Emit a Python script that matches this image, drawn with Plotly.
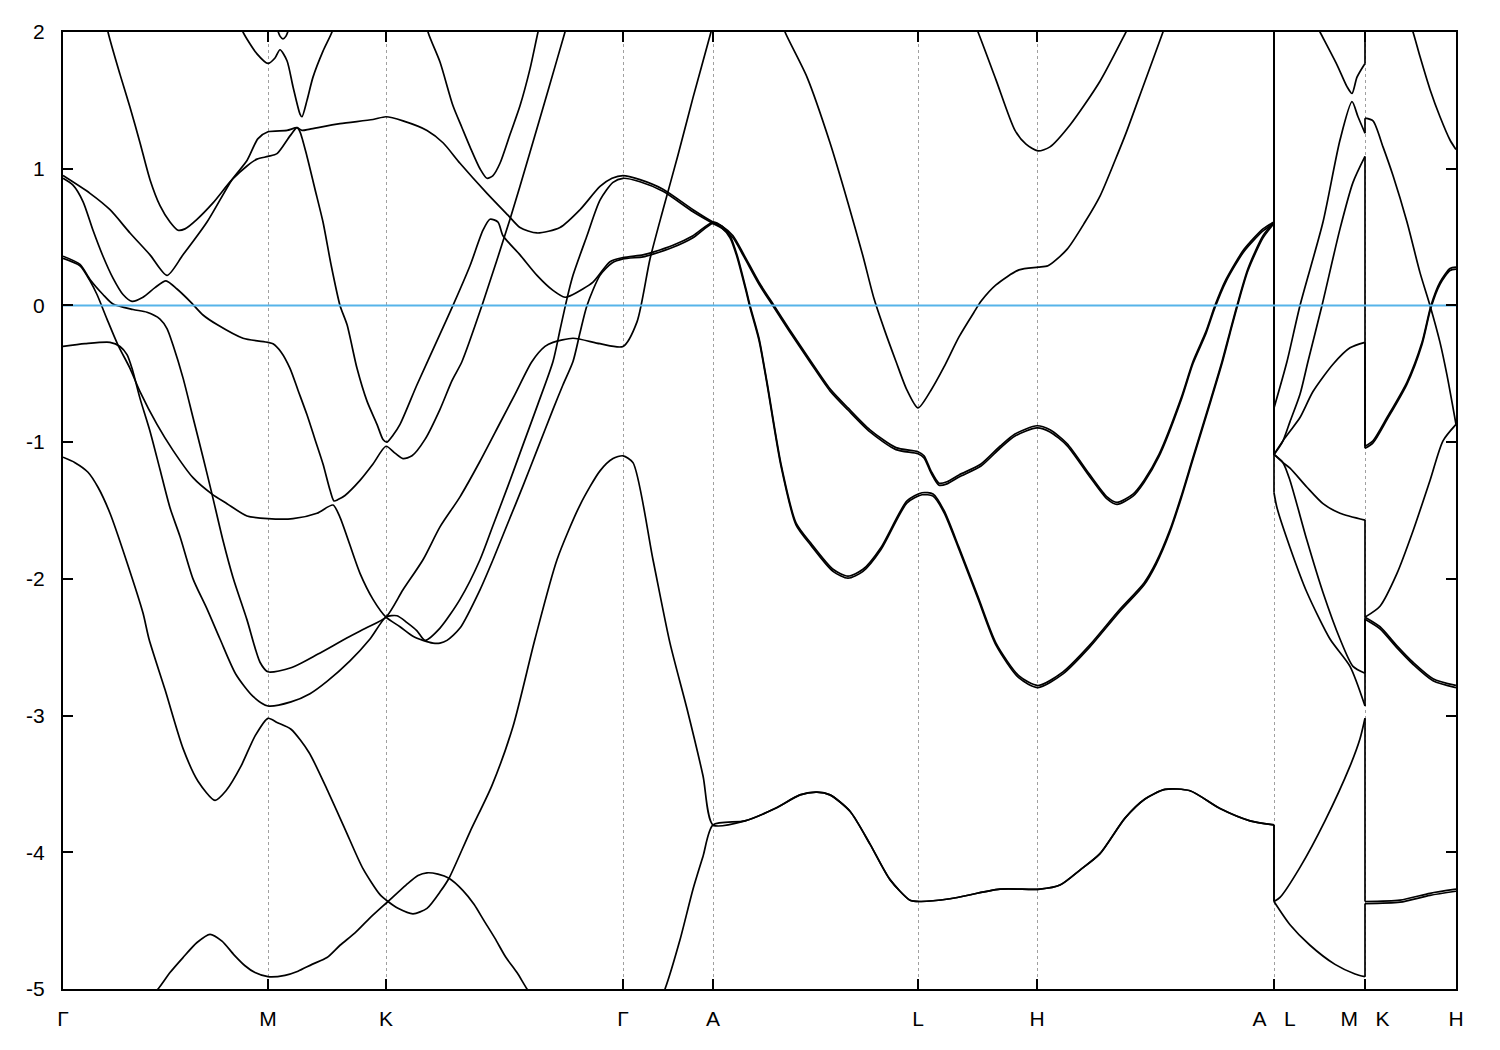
import plotly.graph_objects as go

# ---------------- axes data ----------------
sym_k = [0, 205, 323, 560, 650, 855, 974, 1211, 1302, 1393]
sym_labels = ["Γ", "M", "K", "Γ", "A", "L", "H",
              "A\u00a0\u00a0\u00a0L", "M\u00a0\u00a0\u00a0K", "H"]
e_ticks = [-5, -4, -3, -2, -1, 0, 1, 2]
e_labels = ["-5", "-4", "-3", "-2", "-1", "0", "1", "2"]
fermi_level = 0.0

# ---------------- band segments: (k along path, energy in eV) ----------------
u1 = ([0, 27, 47, 67, 87, 104, 120, 144, 169, 184, 195, 205, 224, 234, 239, 247, 277, 310, 323, 340, 364,
       380, 397, 424, 445, 457, 474, 497, 517, 537, 549, 560, 577, 600, 630, 650],
      [0.95, 0.82, 0.70, 0.53, 0.37, 0.22, 0.37, 0.61, 0.92, 1.06, 1.22, 1.27, 1.28, 1.30, 1.28, 1.29, 1.33,
       1.36, 1.38, 1.35, 1.28, 1.19, 1.04, 0.82, 0.66, 0.57, 0.53, 0.57, 0.70, 0.87, 0.93, 0.95, 0.92, 0.85,
       0.70, 0.61])
u1p = ([560, 577, 600, 630, 650], [0.93, 0.905, 0.835, 0.685, 0.60])

u2 = ([0, 10, 20, 30, 40, 50, 60, 69, 80, 92, 103, 114, 127, 140, 154, 180, 205, 210, 218, 227, 235, 244,
       252, 260, 267, 271, 275, 282, 297, 310, 323, 332, 340, 349, 362, 377, 389, 399, 419, 447, 467, 485,
       502, 508],
      [0.93, 0.88, 0.76, 0.55, 0.36, 0.20, 0.08, 0.03, 0.06, 0.13, 0.18, 0.12, 0.03, -0.07, -0.14, -0.24,
       -0.27, -0.28, -0.34, -0.46, -0.62, -0.80, -0.98, -1.16, -1.35, -1.43, -1.42, -1.39, -1.28, -1.16,
       -1.03, -1.08, -1.12, -1.10, -0.98, -0.76, -0.55, -0.41, 0.0, 0.63, 1.12, 1.57, 2.0, 2.15])

c3 = ([40, 45, 57, 67, 77, 87, 97, 107, 115, 122, 134, 150, 169, 184, 194, 205, 214, 227, 234, 237, 244,
       252, 260, 268, 277, 284, 294, 304, 314, 320, 324, 330, 337, 354, 377, 390, 407, 420, 427, 435, 440,
       457, 474, 490, 502, 510, 530, 547, 560, 580, 590, 610, 630, 650],
      [2.2, 2.0, 1.69, 1.45, 1.19, 0.92, 0.73, 0.61, 0.55, 0.56, 0.63, 0.75, 0.92, 1.02, 1.07, 1.09, 1.11,
       1.24, 1.30, 1.27, 1.09, 0.85, 0.61, 0.30, 0.0, -0.14, -0.46, -0.70, -0.87, -0.98, -1.0, -0.95, -0.87,
       -0.58, -0.21, 0.0, 0.29, 0.55, 0.63, 0.61, 0.51, 0.37, 0.22, 0.11, 0.06, 0.08, 0.17, 0.32, 0.35, 0.37,
       0.39, 0.44, 0.51, 0.61])
c3p = ([560, 580, 590, 610, 630, 650], [0.34, 0.355, 0.375, 0.425, 0.495, 0.60])

f = ([0, 22, 47, 57, 64, 69, 77, 87, 97, 107, 117, 130, 144, 157, 173, 190, 205, 228, 247, 264, 287, 307, 323],
     [-0.30, -0.28, -0.27, -0.30, -0.36, -0.46, -0.68, -0.92, -1.20, -1.48, -1.69, -2.0, -2.22, -2.44, -2.70,
      -2.86, -2.93, -2.90, -2.84, -2.75, -2.60, -2.44, -2.28])

p = ([0, 17, 27, 40, 50, 70, 84, 97, 104, 110, 120, 130, 140, 149, 160, 170, 184, 197, 205, 228, 255, 282,
      303, 323],
     [0.36, 0.30, 0.19, 0.08, 0.01, -0.03, -0.05, -0.10, -0.17, -0.29, -0.53, -0.82, -1.11, -1.38, -1.72,
      -1.99, -2.30, -2.61, -2.68, -2.65, -2.55, -2.44, -2.36, -2.28])

q = ([0, 17, 27, 34, 44, 55, 67, 77, 94, 110, 130, 149, 164, 184, 205, 230, 254, 270, 277, 297, 310, 323],
     [0.345, 0.29, 0.18, 0.08, -0.10, -0.29, -0.46, -0.63, -0.87, -1.06, -1.26, -1.38, -1.45, -1.54, -1.56,
      -1.56, -1.52, -1.46, -1.55, -1.96, -2.15, -2.28])

p2 = ([323, 340, 360, 377, 397, 417, 437, 452, 469, 482, 490, 510, 537, 560],
      [-2.28, -2.08, -1.86, -1.62, -1.40, -1.14, -0.86, -0.65, -0.41, -0.30, -0.27, -0.24, -0.28, -0.30])
s3 = ([560, 574, 587, 600, 615, 630, 648, 655], [-0.30, -0.12, 0.34, 0.70, 1.10, 1.52, 2.0, 2.2])

d1 = ([323, 334, 344, 354, 362, 377, 397, 417, 430, 445, 460, 475, 490, 497, 504, 510, 524, 537, 550, 560],
      [-2.28, -2.27, -2.32, -2.38, -2.45, -2.36, -2.15, -1.86, -1.61, -1.32, -1.02, -0.72, -0.41, -0.18,
       0.05, 0.22, 0.51, 0.77, 0.90, 0.93])
d2 = ([323, 337, 350, 360, 370, 377, 384, 397, 417, 430, 445, 460, 475, 490, 500, 510, 517, 524, 537, 549, 560],
      [-2.28, -2.35, -2.42, -2.45, -2.47, -2.47, -2.45, -2.36, -2.08, -1.86, -1.59, -1.32, -1.04, -0.76,
       -0.58, -0.41, -0.20, 0.0, 0.22, 0.31, 0.34])

g = ([0, 12, 25, 35, 47, 64, 80, 86, 102, 120, 135, 152, 163, 178, 192, 205, 214, 228, 246, 264, 282, 300,
      317, 325, 335, 350, 364, 378, 386, 407, 429, 450, 472, 494, 517, 537, 550, 560, 570, 590, 607, 624,
      640, 650],
     [-1.11, -1.15, -1.22, -1.33, -1.52, -1.88, -2.25, -2.44, -2.81, -3.24, -3.48, -3.62, -3.55, -3.37,
      -3.15, -3.02, -3.05, -3.10, -3.27, -3.54, -3.83, -4.12, -4.31, -4.36, -4.41, -4.45, -4.41, -4.28,
      -4.19, -3.85, -3.51, -3.08, -2.44, -1.86, -1.46, -1.21, -1.12, -1.10, -1.15, -1.86, -2.47, -2.95,
      -3.44, -3.80])
b2 = ([590, 602, 617, 630, 640, 650], [-5.2, -5.0, -4.64, -4.27, -4.03, -3.80])
b1 = ([87, 95, 107, 120, 134, 147, 159, 171, 182, 192, 205, 222, 235, 249, 264, 277, 292, 307, 325, 343,
       355, 364, 375, 386, 400, 411, 421, 432, 443, 454, 464, 472],
      [-5.05, -5.0, -4.88, -4.77, -4.66, -4.60, -4.65, -4.75, -4.83, -4.88, -4.91, -4.90, -4.87, -4.82,
       -4.77, -4.68, -4.59, -4.48, -4.36, -4.24, -4.17, -4.15, -4.16, -4.19, -4.28, -4.38, -4.50, -4.63,
       -4.77, -4.88, -5.0, -5.08])

band38 = ([650, 682, 712, 737, 754, 767, 787, 807, 827, 847, 857, 887, 937, 977, 997, 1017, 1037, 1062,
           1082, 1102, 1127, 1157, 1187, 1211],
          [-3.80, -3.77, -3.68, -3.58, -3.56, -3.58, -3.70, -3.94, -4.20, -4.35, -4.36, -4.34, -4.27, -4.27,
           -4.24, -4.13, -4.01, -3.75, -3.61, -3.54, -3.55, -3.68, -3.77, -3.80])

r1 = ([650, 659, 670, 681, 696, 711, 726, 748, 767, 785, 807, 833, 855, 861, 868, 876, 884, 896, 918, 937,
       952, 974, 987, 1004, 1026, 1044, 1054, 1070, 1081, 1096, 1118, 1130, 1143, 1152, 1163, 1181, 1200, 1211],
      [0.61, 0.58, 0.51, 0.37, 0.17, 0.0, -0.17, -0.41, -0.61, -0.75, -0.91, -1.04, -1.07, -1.10, -1.21,
       -1.30, -1.29, -1.24, -1.16, -1.03, -0.94, -0.88, -0.91, -1.01, -1.23, -1.40, -1.44, -1.38, -1.28,
       -1.09, -0.68, -0.41, -0.19, 0.0, 0.19, 0.41, 0.56, 0.61])
r1b = (r1[0],
       [0.60, 0.565, 0.495, 0.355, 0.155, -0.015, -0.185, -0.425, -0.625, -0.765, -0.925, -1.055, -1.085,
        -1.115, -1.225, -1.315, -1.305, -1.255, -1.175, -1.045, -0.955, -0.895, -0.925, -1.025, -1.245,
        -1.415, -1.455, -1.395, -1.295, -1.105, -0.695, -0.425, -0.205, -0.015, 0.175, 0.395, 0.545, 0.60])
r2 = ([650, 659, 667, 674, 683, 687, 696, 704, 718, 733, 748, 770, 785, 800, 818, 844, 859, 870, 881, 896,
       915, 933, 956, 975, 1000, 1026, 1056, 1081, 1093, 1107, 1118, 1130, 1148, 1159, 1167, 1174, 1185,
       1200, 1211],
      [0.61, 0.58, 0.51, 0.37, 0.12, 0.0, -0.24, -0.56, -1.16, -1.59, -1.74, -1.93, -1.98, -1.93, -1.77,
       -1.43, -1.37, -1.38, -1.50, -1.77, -2.13, -2.47, -2.71, -2.78, -2.68, -2.49, -2.23, -2.03, -1.88,
       -1.64, -1.40, -1.11, -0.68, -0.41, -0.19, 0.0, 0.27, 0.51, 0.61])
r2b = (r2[0],
       [0.60, 0.565, 0.495, 0.355, 0.105, -0.015, -0.255, -0.575, -1.175, -1.605, -1.755, -1.945, -1.995,
        -1.945, -1.785, -1.445, -1.385, -1.395, -1.515, -1.785, -2.145, -2.485, -2.725, -2.795, -2.695,
        -2.505, -2.245, -2.045, -1.895, -1.655, -1.415, -1.125, -0.695, -0.425, -0.205, -0.015, 0.255,
        0.495, 0.60])

t0 = ([360, 365, 377, 390, 399, 407, 417, 424, 430, 437, 447, 457, 467, 475, 480],
      [2.2, 2.0, 1.78, 1.46, 1.30, 1.16, 1.0, 0.93, 0.95, 1.04, 1.25, 1.46, 1.73, 2.0, 2.15])
t1 = ([715, 722, 744, 767, 785, 800, 811, 822, 833, 844, 855, 868, 881, 896, 911, 918, 933, 956, 975, 985,
       1004, 1022, 1037, 1052, 1063, 1081, 1100, 1106],
      [2.15, 2.0, 1.67, 1.19, 0.75, 0.36, 0.05, -0.19, -0.41, -0.62, -0.75, -0.62, -0.45, -0.23, -0.05,
       0.03, 0.15, 0.26, 0.28, 0.29, 0.41, 0.61, 0.80, 1.06, 1.26, 1.62, 2.0, 2.12])
t2 = ([908, 915, 933, 952, 963, 975, 987, 1007, 1037, 1063, 1070],
      [2.12, 2.0, 1.65, 1.28, 1.18, 1.13, 1.16, 1.32, 1.64, 2.0, 2.1])
m1 = ([175, 180, 194, 205, 212, 217, 224, 230, 237, 239, 244, 250, 260, 269, 273],
      [2.1, 2.0, 1.84, 1.77, 1.81, 1.87, 1.79, 1.60, 1.40, 1.38, 1.50, 1.67, 1.86, 2.0, 2.1])
m2 = ([213, 217, 220, 223, 227], [2.05, 1.97, 1.95, 1.97, 2.05])

above_al = ([1211], [2.6])
ltop = ([1211, 1250, 1257, 1274, 1284, 1289, 1294, 1302], [2.6, 2.1, 2.0, 1.76, 1.60, 1.55, 1.67, 1.77])
kh_top = ([1302, 1345, 1350, 1357, 1367, 1377, 1387, 1393], [2.6, 2.1, 2.0, 1.82, 1.58, 1.38, 1.21, 1.14])
la = ([1211, 1224, 1237, 1260, 1277, 1289, 1295, 1302], [-0.75, -0.41, 0.0, 0.61, 1.21, 1.49, 1.38, 1.26])
la_kh = ([1302, 1310, 1320, 1330, 1344, 1357, 1367, 1377, 1384, 1393],
         [1.37, 1.35, 1.16, 0.95, 0.61, 0.24, 0.0, -0.27, -0.51, -0.87])
lc = ([1211, 1216, 1220, 1227, 1237, 1245, 1259, 1277, 1290, 1302],
      [-1.09, -1.04, -0.99, -0.85, -0.65, -0.41, 0.0, 0.56, 0.90, 1.09])
lc_kh = ([1302, 1310, 1324, 1344, 1359, 1368, 1377, 1387, 1393],
         [-1.03, -0.99, -0.82, -0.56, -0.27, 0.0, 0.17, 0.27, 0.28])
ld = ([1211, 1220, 1227, 1237, 1250, 1270, 1287, 1302], [-1.09, -0.99, -0.92, -0.82, -0.63, -0.43, -0.31, -0.27])
ld_kh = ([1302, 1310, 1324, 1344, 1359, 1368, 1377, 1387, 1393],
         [-1.045, -1.005, -0.835, -0.575, -0.285, -0.015, 0.155, 0.255, 0.265])
le = ([1211, 1220, 1227, 1244, 1260, 1277, 1302], [-1.09, -1.15, -1.19, -1.33, -1.45, -1.52, -1.57])
le_kh = ([1302, 1317, 1334, 1350, 1367, 1380, 1393], [-2.28, -2.20, -1.96, -1.65, -1.28, -0.99, -0.87])
lf = ([1211, 1214, 1227, 1244, 1267, 1287, 1302], [-1.37, -1.48, -1.77, -2.10, -2.44, -2.64, -2.93])
lf_kh = ([1302, 1317, 1334, 1350, 1370, 1393], [-2.28, -2.35, -2.49, -2.61, -2.73, -2.78])
lg = ([1211, 1220, 1227, 1244, 1260, 1277, 1290, 1302], [-1.09, -1.15, -1.28, -1.72, -2.10, -2.44, -2.64, -2.69])
lg_kh = ([1302, 1317, 1334, 1350, 1370, 1393], [-2.295, -2.365, -2.505, -2.625, -2.745, -2.795])
lh = ([1211, 1217, 1237, 1262, 1287, 1297, 1302], [-4.36, -4.33, -4.11, -3.77, -3.37, -3.17, -3.02])
li = ([1211, 1227, 1247, 1272, 1292, 1302], [-4.36, -4.53, -4.68, -4.82, -4.89, -4.91])
khb1 = ([1302, 1337, 1367, 1393], [-4.36, -4.35, -4.30, -4.27])
khb2 = ([1302, 1337, 1367, 1393], [-4.375, -4.365, -4.315, -4.285])

# each band = ordered chain of segments along the whole k path
bands = [
    [u1, r1, ltop, kh_top],
    [f, d1, u1p, r1b, la, la_kh],
    [c3, r2, lc, lc_kh],
    [q, d2, c3p, r2b, ld, ld_kh],
    [p, p2, s3],
    [u2],
    [g, band38, lh, khb1],
    [b2, band38, li, khb2],
    [b1], [t0], [t1], [t2], [m1], [m2],
    [above_al, le, le_kh],
    [above_al, lf, lf_kh],
    [above_al, lg, lg_kh],
]


def join(segs):
    ks, es = [], []
    for sk, se in segs:
        for k, e in zip(sk, se):
            if ks and k == ks[-1] and abs(e - es[-1]) < 1e-9:
                continue
            ks.append(k)
            es.append(e)
    return ks, es


curve_x, curve_y, jump_x, jump_y = [], [], [], []
for band in bands:
    ks, es = join(band)
    pk, pe = [ks[0]], [es[0]]
    for i in range(1, len(ks)):
        if ks[i] == ks[i - 1]:
            curve_x += pk + [None]
            curve_y += pe + [None]
            jump_x += [ks[i - 1], ks[i], None]
            jump_y += [es[i - 1], es[i], None]
            pk, pe = [ks[i]], [es[i]]
        else:
            pk.append(ks[i])
            pe.append(es[i])
    curve_x += pk + [None]
    curve_y += pe + [None]

fig = go.Figure()
fig.add_trace(go.Scatter(x=curve_x, y=curve_y, mode="lines",
                         line=dict(color="black", width=1.7, shape="spline", smoothing=0.7),
                         connectgaps=False, hoverinfo="skip", showlegend=False))
fig.add_trace(go.Scatter(x=jump_x, y=jump_y, mode="lines",
                         line=dict(color="black", width=1.7),
                         connectgaps=False, hoverinfo="skip", showlegend=False))
fig.add_trace(go.Scatter(x=[sym_k[0], sym_k[-1]], y=[fermi_level, fermi_level], mode="lines",
                         line=dict(color="#56b4e9", width=2), hoverinfo="skip", showlegend=False))

font = dict(family="Liberation Sans, Arial, sans-serif", size=21, color="black")
fig.update_layout(
    width=1484, height=1034,
    margin=dict(l=55, r=36, t=20, b=50),
    plot_bgcolor="white", paper_bgcolor="white",
    font=font,
    xaxis=dict(range=[sym_k[0], sym_k[-1]], tickmode="array", tickvals=sym_k, ticktext=sym_labels,
               ticks="inside", ticklen=10, tickwidth=2, tickcolor="black",
               showline=True, linecolor="black", linewidth=2, mirror="ticks",
               showgrid=True, gridcolor="#a0a0a0", gridwidth=1, griddash="3px,3px",
               zeroline=False, tickfont=font, ticklabelstandoff=10),
    yaxis=dict(range=[-5, 2], tickmode="array", tickvals=e_ticks, ticktext=e_labels,
               ticks="inside", ticklen=10, tickwidth=2, tickcolor="black",
               showline=True, linecolor="black", linewidth=2, mirror="ticks",
               showgrid=False, zeroline=False, tickfont=font, ticklabelstandoff=12),
)
fig.write_html("out.html")
